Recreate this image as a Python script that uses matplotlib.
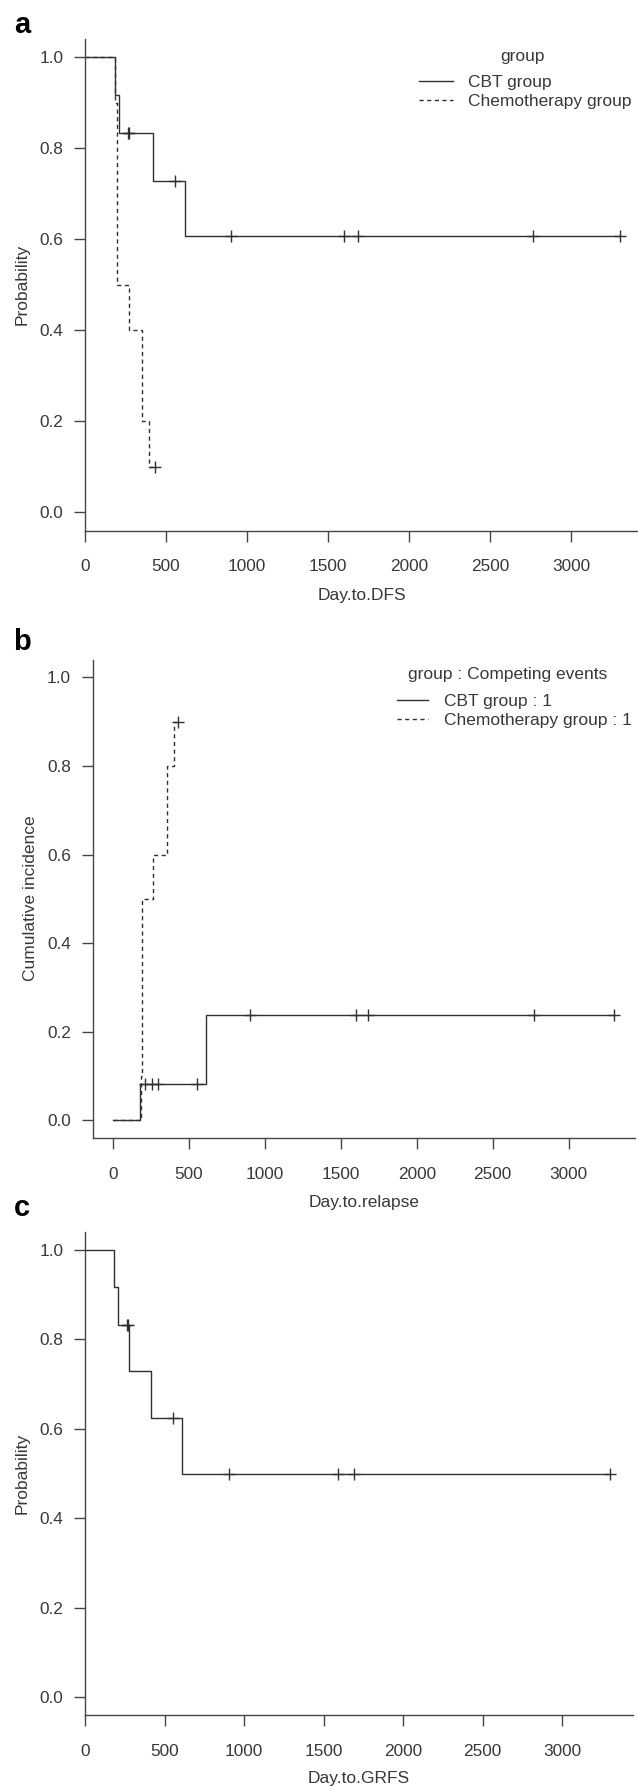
import numpy as np
import matplotlib
matplotlib.use('Agg')
import matplotlib.pyplot as plt
from matplotlib.ticker import FormatStrFormatter

plt.rcParams['font.family'] = ['Liberation Sans', 'DejaVu Sans']

# ---- data ----
# a: disease-free survival (Kaplan-Meier)
a_cbt_time = [0, 183, 211, 422, 616]
a_cbt_prob = [1.0, 0.917, 0.833, 0.729, 0.608]
a_cbt_cens = [264, 270, 555, 902, 1597, 1685, 2768, 3305]
a_chemo_time = [0, 185, 195, 272, 354, 397]
a_chemo_prob = [1.0, 0.9, 0.5, 0.4, 0.2, 0.1]
a_chemo_cens = [432]

# b: cumulative incidence of relapse
b_cbt_time = [0, 177, 612]
b_cbt_inc = [0.0, 0.083, 0.237]
b_cbt_cens = [212, 258, 296, 553, 906, 1603, 1682, 2772, 3300]
b_chemo_time = [0, 183, 191, 267, 355, 404]
b_chemo_inc = [0.0, 0.1, 0.5, 0.6, 0.8, 0.9]
b_chemo_cens = [428]

# c: GRFS (CBT group only)
c_cbt_time = [0, 183, 209, 278, 418, 612]
c_cbt_prob = [1.0, 0.917, 0.833, 0.729, 0.625, 0.5]
c_cbt_cens = [265, 270, 553, 905, 1593, 1690, 3300]

x_ticks = [0, 500, 1000, 1500, 2000, 2500, 3000]
y_ticks = [0.0, 0.2, 0.4, 0.6, 0.8, 1.0]

LINE = '#303030'
AXC = '#454545'
TXT = '#383838'
DASH = (0, (3, 2.5))

W, H = 638, 1787
fig = plt.figure(figsize=(W / 100, H / 100), dpi=100)


def add_ax(left, top, right, bottom):
    return fig.add_axes([left / W, 1 - bottom / H, (right - left) / W, (bottom - top) / H])


def style(ax, xlim):
    ax.set_xlim(*xlim)
    ax.set_ylim(-0.04, 1.04)
    for s in ['top', 'right']:
        ax.spines[s].set_visible(False)
    for s in ['left', 'bottom']:
        ax.spines[s].set_color(AXC)
        ax.spines[s].set_linewidth(1.0)
    ax.set_xticks(x_ticks)
    ax.set_yticks(y_ticks)
    ax.yaxis.set_major_formatter(FormatStrFormatter('%.1f'))
    ax.tick_params(direction='out', length=8, width=1.0, color=AXC,
                   labelsize=12.4, labelcolor=TXT)
    ax.tick_params(axis='x', pad=12.8)
    ax.tick_params(axis='y', pad=7.7)


def step_curve(ax, times, vals, cens, ls):
    end = max(cens[-1], times[-1])
    x = list(times) + [end]
    y = list(vals) + [vals[-1]]
    line, = ax.step(x, y, where='post', color=LINE, lw=1.0, linestyle=ls)
    idx = np.searchsorted(times, cens, side='right') - 1
    ax.plot(cens, np.array(vals)[idx], ls='none', marker='+', ms=9,
            mew=1.0, color=LINE)
    return line


def ftext(x, y, s, **kw):
    fig.text(x / W, 1 - y / H, s, **kw)


# ---- panel a ----
ax_a = add_ax(85, 39.1, 638, 530.5)
style(ax_a, (0, 3414))
h2 = step_curve(ax_a, a_chemo_time, a_chemo_prob, a_chemo_cens, DASH)
h1 = step_curve(ax_a, a_cbt_time, a_cbt_prob, a_cbt_cens, '-')
leg = ax_a.legend([h1, h2], ['CBT group', 'Chemotherapy group'], loc='upper left',
                  bbox_to_anchor=(419 / W, 1 - 74.8 / H), bbox_transform=fig.transFigure,
                  frameon=False, fontsize=12.5, handlelength=1.95, handletextpad=0.86,
                  borderpad=0, borderaxespad=0, labelspacing=0.2)
for t in leg.get_texts():
    t.set_color(TXT)
ftext(522.7, 57, 'group', ha='center', va='center', fontsize=12.5, color=TXT)
ftext(14, 32.7, 'a', ha='left', va='baseline', fontsize=21, fontweight='bold')
ftext(22, 284.5, 'Probability', ha='center', va='center', rotation=90,
      fontsize=12.5, color=TXT)
ftext(361.5, 595, 'Day.to.DFS', ha='center', va='center', fontsize=12.5, color=TXT)

# ---- panel b ----
ax_b = add_ax(92.7, 659.6, 634.7, 1138.2)
style(ax_b, (-131.6, 3434))
h2 = step_curve(ax_b, b_chemo_time, b_chemo_inc, b_chemo_cens, DASH)
h1 = step_curve(ax_b, b_cbt_time, b_cbt_inc, b_cbt_cens, '-')
leg = ax_b.legend([h1, h2], ['CBT group : 1', 'Chemotherapy group : 1'], loc='upper left',
                  bbox_to_anchor=(396.7 / W, 1 - 694.3 / H), bbox_transform=fig.transFigure,
                  frameon=False, fontsize=12.5, handlelength=1.8, handletextpad=0.94,
                  borderpad=0, borderaxespad=0, labelspacing=0.2)
for t in leg.get_texts():
    t.set_color(TXT)
ftext(508, 675, 'group : Competing events', ha='center', va='center', fontsize=12.5, color=TXT)
ftext(13.3, 650, 'b', ha='left', va='baseline', fontsize=21, fontweight='bold')
ftext(30.5, 898, 'Cumulative incidence', ha='center', va='center', rotation=90,
      fontsize=12.5, color=TXT)
ftext(363.7, 1202.7, 'Day.to.relapse', ha='center', va='center', fontsize=12.5, color=TXT)

# ---- panel c ----
ax_c = add_ax(85, 1232.1, 632.6, 1714.9)
style(ax_c, (0, 3444))
step_curve(ax_c, c_cbt_time, c_cbt_prob, c_cbt_cens, '-')
ftext(14, 1216, 'c', ha='left', va='baseline', fontsize=21, fontweight='bold')
ftext(22.4, 1473, 'Probability', ha='center', va='center', rotation=90,
      fontsize=12.5, color=TXT)
ftext(358.8, 1778, 'Day.to.GRFS', ha='center', va='center', fontsize=12.5, color=TXT)

fig.savefig('out.png', dpi=100)
